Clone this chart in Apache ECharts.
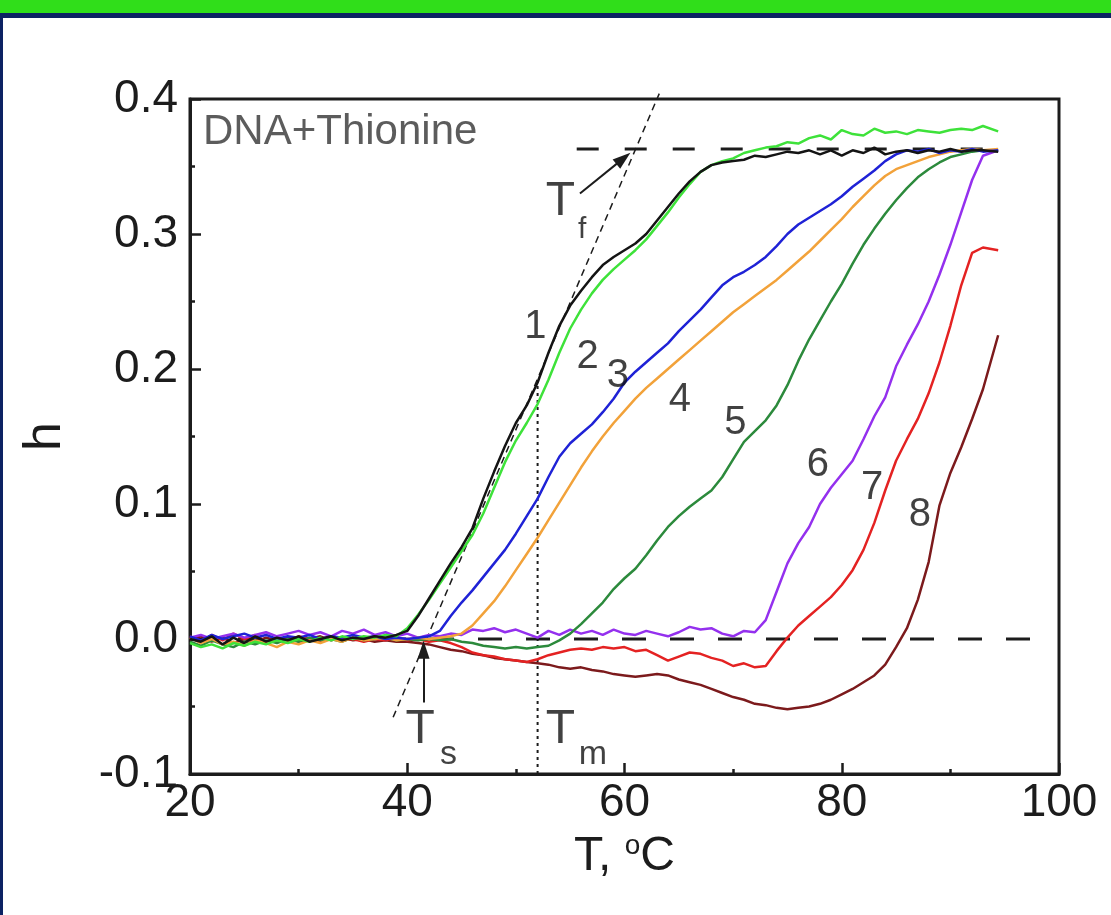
<!DOCTYPE html>
<html>
<head>
<meta charset="utf-8">
<script src="https://cdn.jsdelivr.net/npm/echarts@6/dist/echarts.min.js"></script>
<style>
  html, body { margin: 0; padding: 0; background: #fff; }
  #chart { width: 1111px; height: 915px; }
</style>
</head>
<body>
<div id="chart"></div>
<script>
// temperatures, °C
var temps = [20, 21, 22, 23, 24, 25, 26, 27, 28, 29, 30, 31, 32, 33, 34, 35, 36, 37, 38, 39,
  40, 41, 42, 43, 44, 45, 46, 47, 48, 49, 50, 51, 52, 53, 54, 55, 56, 57, 58, 59,
  60, 61, 62, 63, 64, 65, 66, 67, 68, 69, 70, 71, 72, 73, 74, 75, 76, 77, 78, 79,
  80, 81, 82, 83, 84, 85, 86, 87, 88, 89, 90, 91, 92, 93, 94.4];

// h values for curves 1..8
var h1 = [0.000, -0.002, 0.002, -0.004, 0.001, -0.003, 0.002, -0.002, 0.001, -0.001, 0.002, -0.002, 0.000, 0.002, -0.001, 0.001, 0.000, 0.002, 0.001, 0.003,
  0.006, 0.017, 0.030, 0.043, 0.056, 0.068, 0.082, 0.104, 0.124, 0.143, 0.160, 0.173, 0.190, 0.212, 0.232, 0.247, 0.258, 0.268, 0.277, 0.283,
  0.288, 0.293, 0.300, 0.310, 0.320, 0.330, 0.339, 0.346, 0.351, 0.353, 0.354, 0.355, 0.358, 0.357, 0.359, 0.361, 0.360, 0.362, 0.359, 0.362,
  0.358, 0.362, 0.360, 0.364, 0.359, 0.361, 0.362, 0.360, 0.362, 0.361, 0.363, 0.361, 0.362, 0.362, 0.361];
var h2 = [-0.003, -0.006, -0.004, -0.007, -0.003, -0.005, -0.002, -0.004, -0.001, -0.003, 0.000, -0.002, 0.001, -0.001, 0.002, 0.000, 0.002, 0.001, 0.003, 0.002,
  0.008, 0.018, 0.029, 0.041, 0.053, 0.065, 0.077, 0.093, 0.112, 0.131, 0.147, 0.160, 0.174, 0.192, 0.212, 0.230, 0.244, 0.256, 0.266, 0.274,
  0.281, 0.288, 0.296, 0.306, 0.316, 0.327, 0.337, 0.346, 0.351, 0.354, 0.356, 0.360, 0.362, 0.364, 0.365, 0.368, 0.367, 0.371, 0.373, 0.370,
  0.377, 0.374, 0.373, 0.378, 0.375, 0.376, 0.374, 0.377, 0.376, 0.375, 0.377, 0.378, 0.377, 0.380, 0.376];
var h3 = [0.002, -0.001, 0.003, 0.000, 0.002, 0.004, 0.001, 0.003, 0.000, 0.002, 0.001, 0.003, 0.000, 0.002, 0.001, 0.003, 0.001, 0.002, 0.000, 0.001,
  0.000, 0.001, 0.002, 0.006, 0.017, 0.027, 0.036, 0.046, 0.056, 0.066, 0.078, 0.091, 0.104, 0.120, 0.135, 0.145, 0.152, 0.159, 0.168, 0.178,
  0.190, 0.198, 0.205, 0.212, 0.219, 0.228, 0.236, 0.244, 0.253, 0.262, 0.268, 0.272, 0.277, 0.283, 0.291, 0.300, 0.307, 0.312, 0.317, 0.322,
  0.328, 0.335, 0.341, 0.347, 0.354, 0.359, 0.362, 0.361, 0.363, 0.360, 0.362, 0.361, 0.363, 0.361, 0.362];
var h4 = [0.001, -0.003, 0.000, -0.004, -0.002, -0.005, -0.001, -0.003, -0.006, -0.002, -0.004, -0.001, -0.003, 0.000, -0.002, 0.001, -0.001, 0.000, 0.001, -0.001,
  0.000, 0.001, 0.000, 0.001, 0.002, 0.004, 0.010, 0.019, 0.028, 0.039, 0.051, 0.063, 0.075, 0.088, 0.101, 0.114, 0.127, 0.139, 0.150, 0.160,
  0.169, 0.178, 0.186, 0.193, 0.200, 0.207, 0.214, 0.221, 0.228, 0.235, 0.242, 0.248, 0.254, 0.260, 0.266, 0.273, 0.280, 0.287, 0.295, 0.303,
  0.311, 0.320, 0.328, 0.336, 0.343, 0.348, 0.351, 0.354, 0.357, 0.359, 0.361, 0.362, 0.363, 0.362, 0.363];
var h5 = [-0.002, -0.005, -0.001, -0.004, -0.006, -0.002, -0.004, -0.001, -0.003, 0.000, -0.002, 0.001, -0.001, 0.000, -0.002, 0.001, -0.001, 0.000, 0.001, -0.001,
  0.000, -0.001, 0.000, -0.001, 0.000, -0.002, -0.003, -0.005, -0.006, -0.007, -0.006, -0.007, -0.006, -0.005, -0.001, 0.004, 0.011, 0.019, 0.027, 0.037,
  0.045, 0.052, 0.062, 0.073, 0.083, 0.091, 0.098, 0.104, 0.110, 0.120, 0.133, 0.146, 0.154, 0.162, 0.173, 0.188, 0.206, 0.222, 0.236, 0.250,
  0.263, 0.278, 0.292, 0.304, 0.315, 0.325, 0.334, 0.342, 0.348, 0.353, 0.357, 0.359, 0.361, 0.362, 0.362];
var h6 = [0.001, 0.003, 0.000, 0.002, 0.004, 0.001, 0.003, 0.005, 0.002, 0.004, 0.006, 0.003, 0.005, 0.002, 0.006, 0.004, 0.007, 0.003, 0.005, 0.002,
  0.004, 0.001, 0.003, 0.002, 0.004, 0.003, 0.007, 0.006, 0.008, 0.005, 0.007, 0.004, 0.001, 0.006, 0.003, 0.007, 0.004, 0.006, 0.003, 0.007,
  0.004, 0.003, 0.006, 0.004, 0.002, 0.005, 0.009, 0.007, 0.008, 0.004, 0.002, 0.006, 0.005, 0.014, 0.035, 0.056, 0.071, 0.083, 0.100, 0.112,
  0.122, 0.132, 0.148, 0.165, 0.179, 0.202, 0.218, 0.233, 0.250, 0.270, 0.292, 0.316, 0.340, 0.358, 0.362];
var h7 = [0.002, -0.002, 0.003, -0.001, 0.004, 0.000, 0.003, -0.002, 0.001, -0.001, 0.002, 0.000, -0.002, 0.001, -0.001, 0.000, -0.002, 0.000, -0.001, 0.001,
  -0.001, 0.000, -0.002, -0.001, -0.003, -0.006, -0.010, -0.012, -0.013, -0.015, -0.016, -0.017, -0.015, -0.012, -0.010, -0.008, -0.007, -0.008, -0.006, -0.007,
  -0.006, -0.009, -0.008, -0.012, -0.016, -0.013, -0.010, -0.011, -0.014, -0.016, -0.020, -0.018, -0.021, -0.020, -0.009, 0.001, 0.010, 0.017, 0.024, 0.031,
  0.040, 0.051, 0.066, 0.086, 0.110, 0.132, 0.148, 0.163, 0.182, 0.205, 0.232, 0.262, 0.286, 0.290, 0.288];
var h8 = [-0.001, 0.002, -0.002, 0.001, -0.003, 0.000, -0.002, 0.001, -0.001, 0.001, -0.002, 0.000, 0.002, -0.001, 0.001, -0.001, 0.000, -0.002, -0.001, -0.002,
  -0.002, -0.003, -0.004, -0.006, -0.008, -0.009, -0.011, -0.012, -0.014, -0.015, -0.016, -0.017, -0.018, -0.019, -0.021, -0.022, -0.021, -0.023, -0.024, -0.026,
  -0.027, -0.028, -0.027, -0.026, -0.027, -0.030, -0.032, -0.034, -0.037, -0.040, -0.043, -0.045, -0.048, -0.049, -0.051, -0.052, -0.051, -0.050, -0.048, -0.045,
  -0.041, -0.037, -0.032, -0.027, -0.019, -0.006, 0.008, 0.029, 0.057, 0.099, 0.123, 0.142, 0.163, 0.185, 0.225];

var curveValues = [h1, h2, h3, h4, h5, h6, h7, h8];
var curveColors = ['#141414', '#3ee23a', '#1f22d6', '#f2a23a', '#2c8a3c', '#9430ee', '#e42222', '#7c1a1c'];
var drawOrder = [7, 6, 5, 4, 3, 2, 1, 0];

// tick labels
var xTicks = [20, 40, 60, 80, 100];
var yTicks = [-0.1, 0.0, 0.1, 0.2, 0.3, 0.4];

// guide lines in data units
var zeroLine = [[20, 0], [99, 0]];
var plateauLine = [[55.6, 0.363], [94.4, 0.363]];
var tangentLine = [[38.7, -0.058], [63.2, 0.404]];
var tmLine = [[52.0, -0.1], [52.0, 0.188]];
var tsArrow = [[41.5, -0.047], [41.5, -0.008]];
var tfArrow = [[55.9, 0.330], [59.9, 0.356]];

// annotation texts: [T, h, text, size]
var curveLabels = [
  [51.8, 0.231, '1'], [56.6, 0.209, '2'], [59.4, 0.195, '3'], [65.1, 0.177, '4'],
  [70.2, 0.160, '5'], [77.8, 0.129, '6'], [82.8, 0.112, '7'], [87.2, 0.092, '8']
];
var symbolLabels = [
  [54.1, 0.324, 'T', 48], [56.1, 0.303, 'f', 30],
  [41.2, -0.067, 'T', 48], [43.8, -0.086, 's', 34],
  [54.1, -0.067, 'T', 48], [57.1, -0.086, 'm', 34]
];

var chart = echarts.init(document.getElementById('chart'));
var font = 'Liberation Sans, Arial, sans-serif';
var ink = '#1c1c1c';

function pairs(vals) {
  var out = [];
  for (var i = 0; i < temps.length; i++) out.push([temps[i], vals[i]]);
  return out;
}

var series = [];

series.push({
  type: 'line', data: zeroLine, showSymbol: false, silent: true, z: 1,
  lineStyle: { color: ink, width: 3, type: [24, 24] }
});
series.push({
  type: 'line', data: plateauLine, showSymbol: false, silent: true, z: 1,
  lineStyle: { color: ink, width: 3, type: [22, 26] }
});
series.push({
  type: 'line', data: tangentLine, showSymbol: false, silent: true, clip: false, z: 1,
  lineStyle: { color: ink, width: 1.5, type: [7, 5] }
});
series.push({
  type: 'line', data: tmLine, showSymbol: false, silent: true, z: 1,
  lineStyle: { color: ink, width: 2, type: [3, 4] },
  markLine: {
    silent: true,
    symbol: ['none', 'triangle'],
    symbolSize: [12, 18],
    label: { show: false },
    lineStyle: { color: ink, width: 2, type: 'solid' },
    data: [
      [{ coord: tsArrow[0] }, { coord: tsArrow[1] }],
      [{ coord: tfArrow[0] }, { coord: tfArrow[1] }]
    ]
  }
});

drawOrder.forEach(function (k) {
  series.push({
    name: String(k + 1),
    type: 'line',
    data: pairs(curveValues[k]),
    showSymbol: false,
    silent: true,
    z: 3,
    lineStyle: { color: curveColors[k], width: 2.5 }
  });
});

var textItems = [{
  value: [21.2, 0.3756], name: 'DNA+Thionine',
  label: { align: 'left', fontSize: 42, color: '#333' }
}];
curveLabels.forEach(function (c) {
  textItems.push({ value: [c[0], c[1]], name: c[2], label: { fontSize: 40 } });
});
symbolLabels.forEach(function (c) {
  textItems.push({ value: [c[0], c[1]], name: c[2], label: { fontSize: c[3] } });
});

series.push({
  type: 'scatter',
  data: textItems,
  symbolSize: 0,
  silent: true,
  z: 5,
  label: {
    show: true,
    position: 'inside',
    formatter: '{b}',
    color: '#111',
    fontFamily: font,
    align: 'center',
    verticalAlign: 'middle'
  }
});

var option = {
  animation: false,
  backgroundColor: '#ffffff',
  graphic: [
    { type: 'rect', shape: { x: 0, y: 0, width: 1111, height: 13 }, style: { fill: '#30de1a' }, z: 100 },
    { type: 'rect', shape: { x: 0, y: 13, width: 1111, height: 5 }, style: { fill: '#0c2263' }, z: 100 },
    { type: 'rect', shape: { x: 0, y: 13, width: 3, height: 902 }, style: { fill: '#0c2263' }, z: 100 }
  ],
  grid: {
    left: 190, right: 52, top: 99, bottom: 141,
    show: true, borderColor: ink, borderWidth: 3, backgroundColor: 'transparent'
  },
  xAxis: {
    type: 'value',
    min: xTicks[0], max: xTicks[xTicks.length - 1], interval: 20,
    axisLine: { onZero: false, lineStyle: { color: ink, width: 3 } },
    axisTick: { inside: true, length: 11, lineStyle: { color: ink, width: 2.5 } },
    minorTick: { show: true, splitNumber: 2, length: 5, lineStyle: { color: ink, width: 2.5 } },
    splitLine: { show: false },
    axisLabel: { fontSize: 46, color: ink, fontFamily: font, margin: 6 },
    name: 'T, {sup|o}C',
    nameLocation: 'middle',
    nameGap: 58,
    nameTextStyle: {
      fontSize: 48, color: ink, fontFamily: font,
      rich: { sup: { fontSize: 28, fontFamily: font, color: ink, padding: [0, 0, 22, 0] } }
    }
  },
  yAxis: {
    type: 'value',
    min: yTicks[0], max: yTicks[yTicks.length - 1], interval: 0.1,
    axisLine: { onZero: false, lineStyle: { color: ink, width: 3 } },
    axisTick: { inside: true, length: 11, lineStyle: { color: ink, width: 2.5 } },
    minorTick: { show: true, splitNumber: 2, length: 5, lineStyle: { color: ink, width: 2.5 } },
    splitLine: { show: false },
    axisLabel: {
      fontSize: 46, color: ink, fontFamily: font, margin: 12,
      formatter: function (v) { return v.toFixed(1); }
    },
    name: 'h',
    nameLocation: 'middle',
    nameRotate: 90,
    nameGap: 118,
    nameTextStyle: { fontSize: 52, color: ink, fontFamily: font }
  },
  series: series
};

chart.setOption(option);
</script>
</body>
</html>
